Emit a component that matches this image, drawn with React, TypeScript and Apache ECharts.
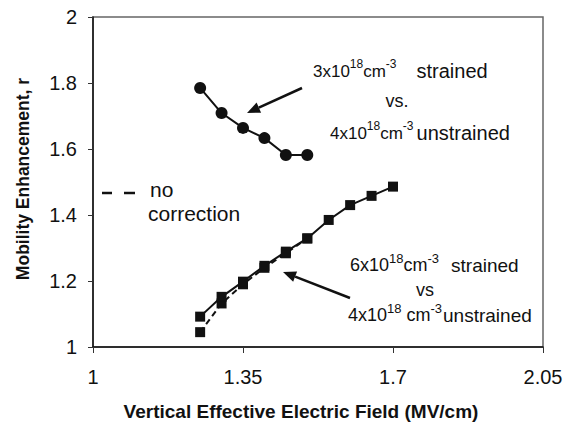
import React, { useEffect, useRef } from "react";
import * as echarts from "echarts";

const xTicks = [1, 1.35, 1.7, 2.05];
const yTicks = [1, 1.2, 1.4, 1.6, 1.8, 2];

const circleX = [1.25, 1.3, 1.35, 1.4, 1.45, 1.5];
const circleY = [1.785, 1.709, 1.664, 1.633, 1.582, 1.582];

const squareX = [1.25, 1.3, 1.35, 1.4, 1.45, 1.5, 1.55, 1.6, 1.65, 1.7];
const squareY = [1.092, 1.152, 1.198, 1.246, 1.289, 1.329, 1.385, 1.43, 1.458, 1.486];

const noCorrX = [1.25, 1.3, 1.35, 1.4, 1.45, 1.5];
const noCorrY = [1.045, 1.132, 1.19, 1.24, 1.284, 1.329];

const FONT = "Liberation Sans, Arial, sans-serif";

function txt(x: number, y: number, text: string, size: number, align = "left", weight = "normal", lineHeight?: number) {
  return {
    type: "text",
    x,
    y,
    style: {
      text,
      fontSize: size,
      fontFamily: FONT,
      fontWeight: weight,
      fill: "#111",
      align,
      verticalAlign: "middle",
      lineHeight: lineHeight ?? size * 1.2,
    },
    z: 10,
  };
}

function richLine(x: number, y: number, text: string, base: number, sup: number, word: number, gap: number) {
  return {
    type: "text",
    x,
    y,
    style: {
      text,
      align: "left",
      verticalAlign: "middle",
      fontFamily: FONT,
      fill: "#111",
      rich: {
        n: { fontSize: base, fontFamily: FONT, color: "#111", lineHeight: 26, verticalAlign: "middle" },
        s: { fontSize: sup, fontFamily: FONT, color: "#111", lineHeight: 12, verticalAlign: "top" },
        w: { fontSize: word, fontFamily: FONT, color: "#111", lineHeight: 26, verticalAlign: "middle", padding: [0, 0, 0, gap] },
      },
    },
    z: 10,
  };
}

function arrow(x1: number, y1: number, x2: number, y2: number) {
  const ang = Math.atan2(y2 - y1, x2 - x1);
  const L = 13;
  const W = 5.5;
  const bx = x2 - L * Math.cos(ang);
  const by = y2 - L * Math.sin(ang);
  const px = -Math.sin(ang) * W;
  const py = Math.cos(ang) * W;
  return [
    { type: "line", shape: { x1, y1, x2: bx, y2: by }, style: { stroke: "#111", lineWidth: 2.5 }, z: 10 },
    {
      type: "polygon",
      shape: { points: [[x2, y2], [bx + px, by + py], [bx - px, by - py]] },
      style: { fill: "#111" },
      z: 10,
    },
  ];
}

export default function App() {
  const ref = useRef<HTMLDivElement>(null);
  useEffect(() => {
    if (!ref.current) return;
    const chart = echarts.init(ref.current, null, { renderer: "svg" });
    const zip = (xs: number[], ys: number[]) => xs.map((x, i) => [x, ys[i]]);
    chart.setOption({
      animation: false,
      backgroundColor: "#fff",
      grid: {
        left: 93,
        right: 26,
        top: 17,
        bottom: 84,
        show: true,
        borderColor: "#666",
        borderWidth: 1.5,
        backgroundColor: "transparent",
      },
      xAxis: {
        type: "value",
        min: xTicks[0],
        max: xTicks[xTicks.length - 1],
        interval: 0.35,
        axisLine: { lineStyle: { color: "#111", width: 1.5 } },
        axisTick: { show: true, inside: false, length: 6, lineStyle: { color: "#333" } },
        splitLine: { show: false },
        axisLabel: {
          fontSize: 20,
          fontFamily: FONT,
          color: "#111",
          margin: 20,
          formatter: (v: number) => String(Math.round(v * 100) / 100),
        },
      },
      yAxis: {
        type: "value",
        min: yTicks[0],
        max: yTicks[yTicks.length - 1],
        interval: 0.2,
        axisLine: { show: true, lineStyle: { color: "#111", width: 1.5 } },
        axisTick: { show: true, inside: false, length: 5, lineStyle: { color: "#333" } },
        splitLine: { show: false },
        axisLabel: {
          fontSize: 20,
          fontFamily: FONT,
          color: "#111",
          margin: 16,
          formatter: (v: number) => String(Math.round(v * 10) / 10),
        },
      },
      series: [
        {
          type: "line",
          data: zip(noCorrX, noCorrY),
          symbol: "rect",
          symbolSize: 10,
          itemStyle: { color: "#111" },
          lineStyle: { color: "#111", width: 2, type: [6, 4] },
          z: 2,
        },
        {
          type: "line",
          data: zip(squareX, squareY),
          symbol: "rect",
          symbolSize: 10,
          itemStyle: { color: "#111" },
          lineStyle: { color: "#111", width: 2 },
          z: 3,
        },
        {
          type: "line",
          data: zip(circleX, circleY),
          symbol: "circle",
          symbolSize: 12,
          itemStyle: { color: "#111" },
          lineStyle: { color: "#111", width: 2 },
          z: 3,
        },
      ],
      graphic: [
        {
          type: "text",
          x: 23,
          y: 179,
          rotation: Math.PI / 2,
          style: {
            text: "Mobility Enhancement, r",
            fontSize: 17.5,
            fontWeight: "bold",
            fontFamily: FONT,
            fill: "#111",
            align: "center",
            verticalAlign: "middle",
          },
        },
        txt(301, 411, "Vertical Effective Electric Field (MV/cm)", 19, "center", "bold"),
        // upper annotation
        richLine(313, 71, "{n|3x10}{s|18}{n|cm}{s|-3}{w|strained}", 17, 12, 20, 20),
        txt(397, 101, "vs.", 18, "center"),
        richLine(330, 133, "{n|4x10}{s|18}{n|cm}{s|-3}{w|unstrained}", 17, 12, 20, 3),
        // lower annotation
        richLine(350, 265, "{n|6x10}{s|18}{n|cm}{s|-3}{w|strained}", 18, 13, 19, 12),
        txt(425, 290, "vs", 18, "center"),
        richLine(348, 315, "{n|4x10}{s|18}{n| cm}{s|-3}{w|unstrained}", 18, 13, 19, 1),
        // legend
        txt(150, 189, "no", 21),
        txt(148, 213, "correction", 21),
        { type: "line", shape: { x1: 102, y1: 193, x2: 112, y2: 193 }, style: { stroke: "#111", lineWidth: 2.5 } },
        { type: "line", shape: { x1: 124, y1: 193, x2: 135, y2: 193 }, style: { stroke: "#111", lineWidth: 2.5 } },
        ...arrow(302, 88, 247, 113),
        ...arrow(350, 298, 283, 272),
      ],
    });
    return () => chart.dispose();
  }, []);
  return <div ref={ref} style={{ position: "absolute", left: 0, top: 0, width: 569, height: 431 }} />;
}
